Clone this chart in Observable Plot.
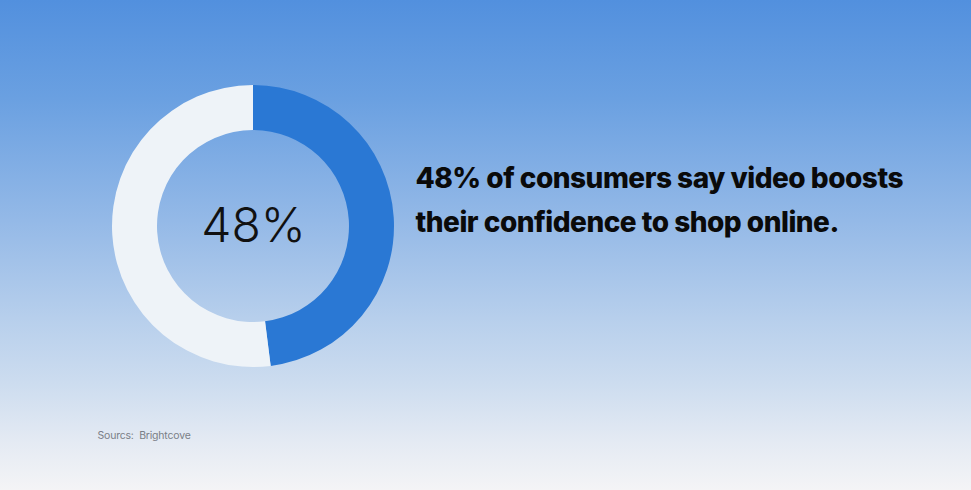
<!DOCTYPE html>
<html>
<head>
<meta charset="utf-8">
<script src="https://cdn.jsdelivr.net/npm/d3@7"></script>
<script src="https://cdn.jsdelivr.net/npm/@observablehq/plot@0.6"></script>
<style>
  html, body { margin: 0; padding: 0; }
  body { width: 971px; height: 490px; overflow: hidden; }
  .headline text { letter-spacing: -0.5px; }
  .source text { letter-spacing: -0.2px; }
</style>
</head>
<body>
<div id="chart"></div>
<script>
// Data
const categories = ["Yes", "Other"];
const shares = [48, 52];
const centerLabel = ["48%"];
const headline = ["48% of consumers say video boosts\ntheir confidence to shop online."];
const source = ["Sourcs:  Brightcove"];

const colors = {Yes: "#2a78d4", Other: "#eef3f8"};
const data = categories.map((c, i) => ({category: c, value: shares[i]}));

const W = 971, H = 490;
const cx = 253, cy = 226, rOuter = 141, rInner = 96;

function donut(index, scales, values, dimensions) {
  const pie = d3.pie().sort(null).value(d => d.value);
  const arc = d3.arc().innerRadius(rInner).outerRadius(rOuter);
  const g = d3.create("svg:g").attr("transform", `translate(${cx},${cy})`);
  g.selectAll("path").data(pie(data)).join("path")
    .attr("d", arc)
    .attr("fill", d => colors[d.data.category]);
  return g.node();
}

const chart = Plot.plot({
  width: W,
  height: H,
  margin: 0,
  x: {axis: null},
  y: {axis: null},
  style: {
    background: "linear-gradient(180deg, #5290de 0%, #6aa0e1 20%, #94b9e7 45%, #b7cfec 65%, #ccdcef 78%, #e4eaf3 90%, #f4f4f6 100%)",
    fontFamily: "Inter, sans-serif",
    overflow: "visible"
  },
  marks: [
    donut,
    Plot.text(centerLabel, {
      text: d => d, frameAnchor: "top-left", dx: cx, dy: cy,
      textAnchor: "middle", lineAnchor: "middle",
      fontSize: 48, fontWeight: 300, fill: "#111", fontFamily: "Inter, sans-serif"
    }),
    Plot.text(headline, {
      text: d => d, frameAnchor: "top-left", dx: 415, dy: 156,
      textAnchor: "start", lineAnchor: "top", lineHeight: 1.57,
      fontSize: 28, fontWeight: 800, fill: "#0a0a0a", fontFamily: "Inter, sans-serif",
      className: "headline"
    }),
    Plot.text(source, {
      text: d => d, frameAnchor: "top-left", dx: 97, dy: 435,
      textAnchor: "start", lineAnchor: "middle",
      fontSize: 10.5, fill: "#7a7f87", fontFamily: "Inter, sans-serif",
      className: "source"
    })
  ]
});
// apply letter spacing (fallback if className unsupported)
d3.select(chart).selectAll(".headline text, g.headline text").style("letter-spacing", "-0.5px");
document.getElementById("chart").appendChild(chart);
</script>
</body>
</html>
